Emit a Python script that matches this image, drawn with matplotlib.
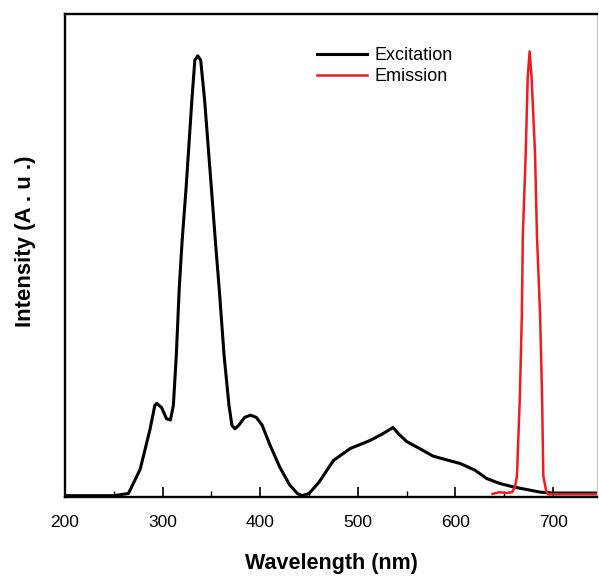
import matplotlib
matplotlib.use("Agg")
from matplotlib import pyplot as plt
from matplotlib.ticker import MultipleLocator

plt.rcParams['font.family'] = ['Liberation Sans', 'DejaVu Sans']

# excitation spectrum
exc_wl = [200, 250, 265, 277, 287, 292, 294, 299, 304, 308, 311, 314, 317, 320, 324,
          330, 333, 336, 339, 343, 350, 354, 358, 363, 368, 371, 374, 378, 384, 390,
          396, 402, 410, 420, 430, 438, 443, 450, 460, 475, 492, 512, 525, 536, 542,
          550, 565, 577, 590, 605, 620, 632, 645, 659, 673, 687, 700, 745]
exc_int = [0.0, 0.0, 0.005, 0.06, 0.15, 0.205, 0.21, 0.2, 0.175, 0.172, 0.205, 0.318, 0.47,
           0.58, 0.698, 0.9, 0.99, 1.0, 0.99, 0.9, 0.698, 0.58, 0.47, 0.318, 0.205, 0.16,
           0.152, 0.16, 0.178, 0.183, 0.178, 0.16, 0.115, 0.065, 0.025, 0.005, 0.0, 0.005,
           0.03, 0.08, 0.107, 0.125, 0.14, 0.155, 0.14, 0.123, 0.105, 0.09, 0.082, 0.073,
           0.058, 0.039, 0.028, 0.02, 0.014, 0.008, 0.006, 0.006]

# emission spectrum
emi_wl = [638, 645, 652, 658, 661, 663, 666, 668, 669, 672, 674, 676, 678, 681.5,
          683.5, 686.7, 688.7, 690, 693, 695, 700, 745]
emi_int = [0.004, 0.008, 0.006, 0.008, 0.02, 0.045, 0.227, 0.41, 0.59, 0.78, 0.95, 1.01,
           0.95, 0.78, 0.59, 0.41, 0.227, 0.045, 0.01, 0.003, 0.003, 0.003]

fig = plt.figure(figsize=(5.99, 5.77), dpi=100)
ax = fig.add_axes([65/599, 80/577, 532/599, 483/577])

ax.plot(exc_wl, exc_int, color='black', linewidth=2.2, label='Excitation')
ax.plot(emi_wl, emi_int, color='#ee1c1c', linewidth=1.8, label='Emission')

ax.set_xlim(200, 745)
ax.set_ylim(-0.003, 1.095)

ax.xaxis.set_major_locator(MultipleLocator(100))
ax.xaxis.set_minor_locator(MultipleLocator(50))
ax.tick_params(axis='x', which='major', direction='in', length=7, width=1.2,
               labelsize=12.5, pad=13)
ax.tick_params(axis='x', which='minor', direction='in', length=4, width=1.0)
ax.set_yticks([])

for s in ['left', 'bottom', 'top']:
    ax.spines[s].set_linewidth(1.7)
ax.spines['right'].set_color('#cccccc')
ax.spines['right'].set_linewidth(1.0)

ax.set_xlabel('Wavelength (nm)', fontsize=15.5, fontweight='bold')
ax.xaxis.set_label_coords(0.5, -0.116)
ax.set_ylabel('Intensity (A . u .)', fontsize=16, fontweight='bold')
ax.yaxis.set_label_coords(-0.054, 0.53)

ax.legend(loc='upper left', bbox_to_anchor=(0.46, 0.946), frameon=False,
          fontsize=13, handlelength=2.78, handletextpad=0.4, labelspacing=0.22,
          borderaxespad=0)

fig.savefig('out.png', dpi=100)
